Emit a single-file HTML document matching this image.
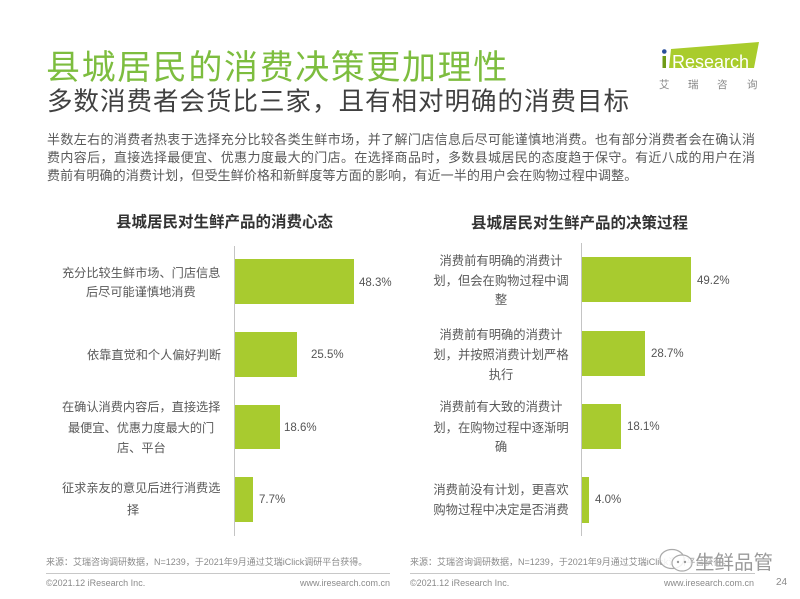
<!DOCTYPE html>
<html><head><meta charset="utf-8">
<style>
*{margin:0;padding:0;box-sizing:border-box}
html,body{width:800px;height:599px;background:#fff;overflow:hidden}
body{position:relative;font-family:"Liberation Sans","Noto Sans CJK SC",sans-serif;color:#595959}
.a{position:absolute;white-space:nowrap}
.t{font-size:34px;color:#7dbd3f;letter-spacing:1.6px;line-height:40px}
.st{font-size:25.5px;color:#404040;letter-spacing:1px;line-height:30px}
.bd{font-size:13px;color:#595959;line-height:18px;width:708px;text-align:justify;text-align-last:justify}
.ct{font-size:15.5px;font-weight:bold;color:#333;line-height:20px}
.lb{font-size:12.2px;color:#595959;line-height:14px}
.rb{font-size:12.3px;color:#595959;line-height:14px;width:150px;left:426px;text-align:center}
.v{font-size:11.5px;color:#555;line-height:14px}
.bar{position:absolute;background:#a8cb2f}
.ax{position:absolute;width:1px;background:#c4c4c4}
.ft{font-size:9px;color:#8a8a8a;line-height:11px}
</style></head><body>

<div class="a t" style="left:46px;top:48px">县城居民的消费决策更加理性</div>
<div class="a st" style="left:47px;top:87px">多数消费者会货比三家，且有相对明确的消费目标</div>

<svg class="a" style="left:0;top:0" width="800" height="100">
  <polygon points="671,49 759,42 754,68 669,68" fill="#a9cc2c"/>
  <rect x="662.5" y="56" width="3.5" height="12" fill="#6f9b17"/>
  <circle cx="664.3" cy="51.5" r="2.3" fill="#2a4f9b"/>
  <text x="672" y="68" font-family="Liberation Sans" font-size="18" fill="#fff">Research</text>
  <text x="659" y="88" font-family="Noto Sans CJK SC" font-size="10.5" fill="#888">艾</text>
  <text x="688" y="88" font-family="Noto Sans CJK SC" font-size="10.5" fill="#888">瑞</text>
  <text x="717" y="88" font-family="Noto Sans CJK SC" font-size="10.5" fill="#888">咨</text>
  <text x="747" y="88" font-family="Noto Sans CJK SC" font-size="10.5" fill="#888">询</text>
</svg>

<div class="a bd" style="left:47px;top:131px">半数左右的消费者热衷于选择充分比较各类生鲜市场，并了解门店信息后尽可能谨慎地消费。也有部分消费者会在确认消</div>
<div class="a bd" style="left:47px;top:149px">费内容后，直接选择最便宜、优惠力度最大的门店。在选择商品时，多数县城居民的态度趋于保守。有近八成的用户在消</div>
<div class="a" style="left:47px;top:167px;font-size:13px;line-height:18px;letter-spacing:0.12px;color:#595959">费前有明确的消费计划，但受生鲜价格和新鲜度等方面的影响，有近一半的用户会在购物过程中调整。</div>

<!-- chart titles -->
<div class="a ct" style="left:116px;top:213px">县城居民对生鲜产品的消费心态</div>
<div class="a ct" style="left:471px;top:214px">县城居民对生鲜产品的决策过程</div>

<!-- left chart -->
<div class="ax" style="left:234px;top:246px;height:290px"></div>
<div class="bar" style="left:235px;top:259px;width:119px;height:45px"></div>
<div class="bar" style="left:235px;top:332px;width:62px;height:45px"></div>
<div class="bar" style="left:235px;top:405px;width:45px;height:44px"></div>
<div class="bar" style="left:235px;top:477px;width:18px;height:45px"></div>
<div class="a v" style="left:359px;top:276px">48.3%</div>
<div class="a v" style="left:311px;top:348px">25.5%</div>
<div class="a v" style="left:284px;top:421px">18.6%</div>
<div class="a v" style="left:259px;top:493px">7.7%</div>

<div class="a lb" style="left:62px;top:266px">充分比较生鲜市场、门店信息</div>
<div class="a lb" style="left:86px;top:285px">后尽可能谨慎地消费</div>
<div class="a lb" style="left:87px;top:348px">依靠直觉和个人偏好判断</div>
<div class="a lb" style="left:62px;top:400px">在确认消费内容后，直接选择</div>
<div class="a lb" style="left:68px;top:421px">最便宜、优惠力度最大的门</div>
<div class="a lb" style="left:117px;top:441px">店、平台</div>
<div class="a lb" style="left:62px;top:481px">征求亲友的意见后进行消费选</div>
<div class="a lb" style="left:127px;top:503px">择</div>

<!-- right chart -->
<div class="ax" style="left:581px;top:243px;height:293px"></div>
<div class="bar" style="left:582px;top:257px;width:109px;height:45px"></div>
<div class="bar" style="left:582px;top:331px;width:63px;height:45px"></div>
<div class="bar" style="left:582px;top:404px;width:39px;height:45px"></div>
<div class="bar" style="left:582px;top:477px;width:7px;height:46px"></div>
<div class="a v" style="left:697px;top:274px">49.2%</div>
<div class="a v" style="left:651px;top:347px">28.7%</div>
<div class="a v" style="left:627px;top:420px">18.1%</div>
<div class="a v" style="left:595px;top:493px">4.0%</div>

<div class="a rb" style="top:254px">消费前有明确的消费计</div>
<div class="a rb" style="top:274px">划，但会在购物过程中调</div>
<div class="a rb" style="top:293px">整</div>
<div class="a rb" style="top:328px">消费前有明确的消费计</div>
<div class="a rb" style="top:348px">划，并按照消费计划严格</div>
<div class="a rb" style="top:368px">执行</div>
<div class="a rb" style="top:400px">消费前有大致的消费计</div>
<div class="a rb" style="top:421px">划，在购物过程中逐渐明</div>
<div class="a rb" style="top:440px">确</div>
<div class="a rb" style="top:483px">消费前没有计划，更喜欢</div>
<div class="a rb" style="top:503px">购物过程中决定是否消费</div>

<!-- footer -->
<div class="a ft" style="left:46px;top:557px">来源：艾瑞咨询调研数据，N=1239，于2021年9月通过艾瑞iClick调研平台获得。</div>
<div class="a" style="left:46px;top:573px;width:344px;height:1px;background:#c8c8c8"></div>
<div class="a ft" style="left:46px;top:578px">©2021.12 iResearch Inc.</div>
<div class="a ft" style="left:300px;top:578px;width:90px;text-align:right">www.iresearch.com.cn</div>

<div class="a ft" style="left:410px;top:557px">来源：艾瑞咨询调研数据，N=1239，于2021年9月通过艾瑞iClick调研平台获得。</div>
<div class="a" style="left:410px;top:573px;width:345px;height:1px;background:#c8c8c8"></div>
<div class="a ft" style="left:410px;top:578px">©2021.12 iResearch Inc.</div>
<div class="a ft" style="left:662px;top:578px;width:92px;text-align:right">www.iresearch.com.cn</div>
<div class="a" style="left:776px;top:577px;font-size:10px;color:#8a8a8a;line-height:12px">24</div>

<!-- watermark -->
<svg class="a" style="left:655px;top:546px" width="45" height="30">
  <ellipse cx="17" cy="13" rx="12" ry="9.5" fill="rgba(255,255,255,0.85)" stroke="#aaa" stroke-width="1.2"/>
  <ellipse cx="27" cy="17" rx="10" ry="8" fill="rgba(255,255,255,0.85)" stroke="#aaa" stroke-width="1.2"/>
  <circle cx="23" cy="16" r="1.2" fill="#999"/>
  <circle cx="30" cy="16" r="1.2" fill="#999"/>
</svg>
<div class="a" style="left:695px;top:549px;font-size:19.5px;line-height:24px;color:#9a9a9a;font-family:'Noto Sans CJK SC',sans-serif;text-shadow:0 0 2px #fff">生鲜品管</div>

</body></html>
